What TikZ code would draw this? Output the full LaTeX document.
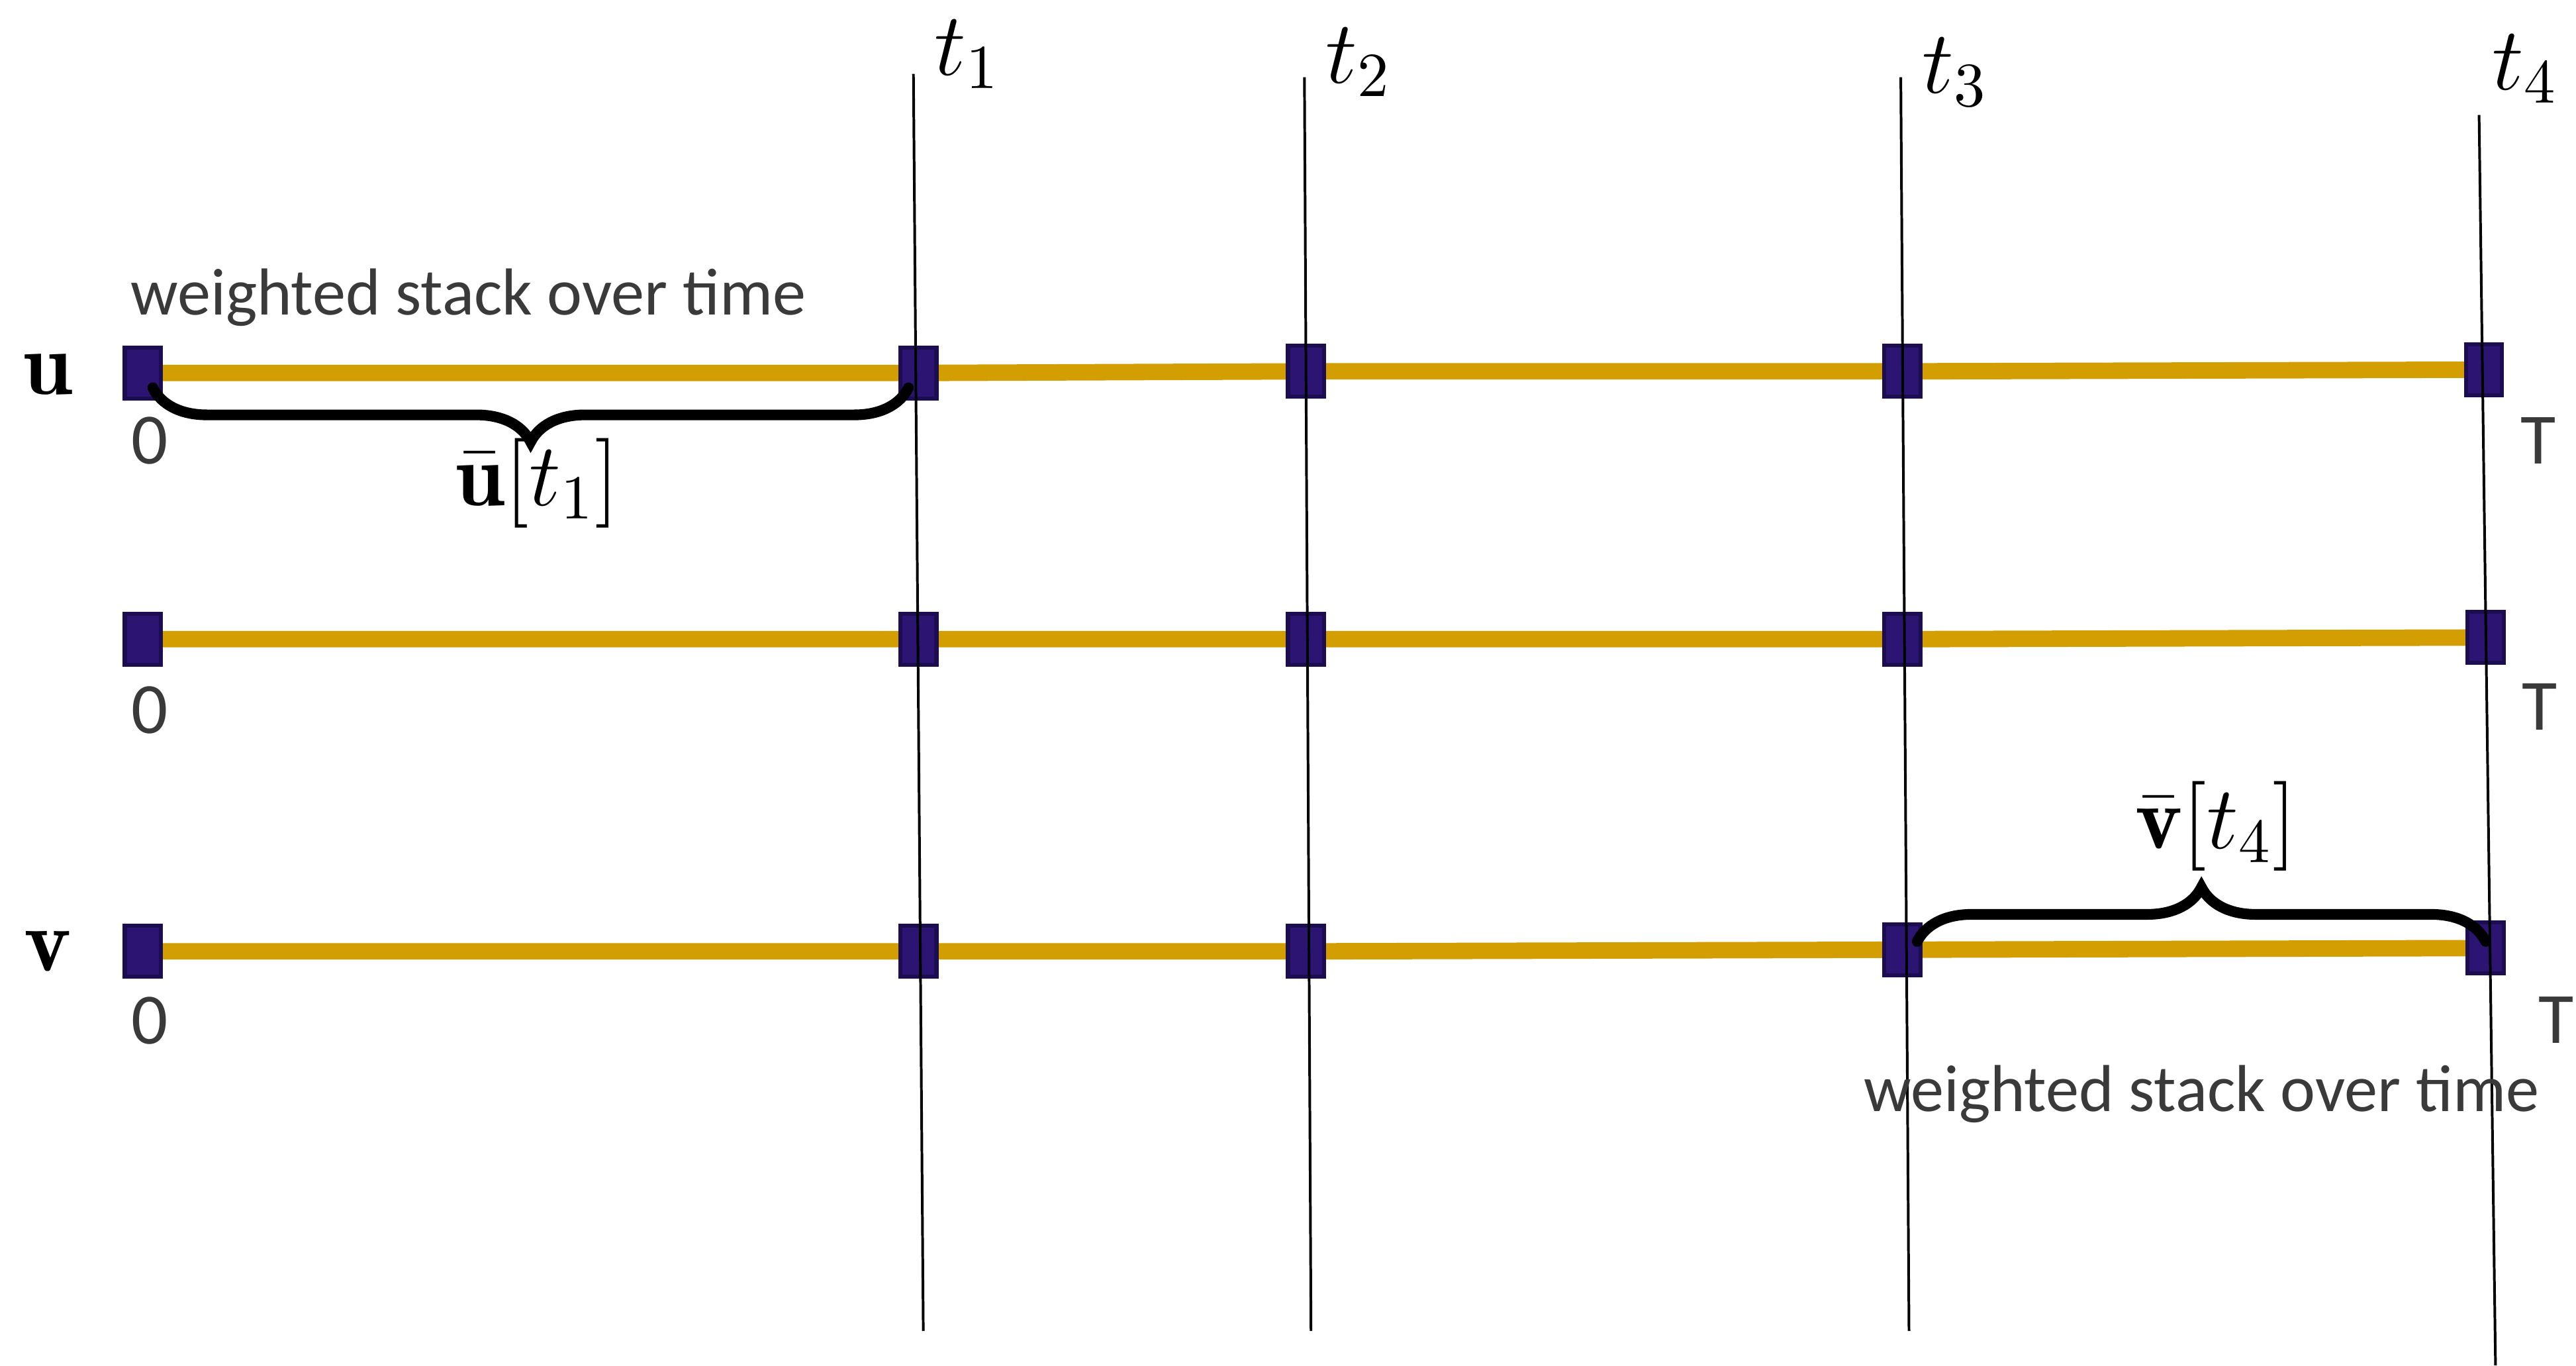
\RequirePackage{fix-cm}
\documentclass[tikz,border=0pt]{standalone}
\usepackage{fontspec}
\newfontfamily\carlito{Carlito}
\usetikzlibrary{decorations.pathreplacing,backgrounds}
\definecolor{gold}{RGB}{211,158,2}
\definecolor{indigo}{RGB}{44,20,114}
\definecolor{indigoedge}{RGB}{28,12,80}
\definecolor{labgray}{RGB}{58,58,58}
\begin{document}
\begin{tikzpicture}[x=0.1mm,y=-0.1mm,
 sq/.style={rectangle,fill=indigo,draw=indigoedge,line width=0.25mm,minimum width=2.2mm,minimum height=3.1mm,inner sep=0pt},
 yline/.style={draw=gold,line width=1mm},
 tline/.style={draw=black,line width=0.16mm},
 brc/.style={decorate,decoration={brace,amplitude=3.3mm},line width=0.65mm,line cap=round},
 mlab/.style={font=\fontsize{15.5}{18}\selectfont,inner sep=0pt},
 glab/.style={font=\carlito\fontsize{11.5}{14}\selectfont,text=labgray,inner sep=0pt},
 nlab/.style={font=\carlito\fontsize{12.5}{15}\selectfont,text=labgray,inner sep=0pt}]
\useasboundingbox (0,0) rectangle (1568,831);

% squares
\node[sq] (a0) at (87,227) {};
\node[sq] (a1) at (559,227) {};
\node[sq] (a2) at (795,226) {};
\node[sq] (a3) at (1158,226) {};
\node[sq] (a4) at (1512,225) {};
\node[sq] (b0) at (87,389) {};
\node[sq] (b1) at (559,389) {};
\node[sq] (b2) at (795,389) {};
\node[sq] (b3) at (1158,389) {};
\node[sq] (b4) at (1513,388) {};
\node[sq] (c0) at (87,579) {};
\node[sq] (c1) at (559,579) {};
\node[sq] (c2) at (795,579) {};
\node[sq] (c3) at (1158,578) {};
\node[sq] (c4) at (1513,577) {};

\begin{pgfonlayer}{background}
\draw[yline] (a0.center) -- (a1.center) -- (a2.center) -- (a3.center) -- (a4.center);
\draw[yline] (b0.center) -- (b1.center) -- (b2.center) -- (b3.center) -- (b4.center);
\draw[yline] (c0.center) -- (c1.center) -- (c2.center) -- (c3.center) -- (c4.center);
\end{pgfonlayer}

% time lines
\coordinate (t1top) at (556,45);  \coordinate (t1bot) at (562,810);
\coordinate (t2top) at (794,47);  \coordinate (t2bot) at (798,810);
\coordinate (t3top) at (1157,47); \coordinate (t3bot) at (1162,810);
\coordinate (t4top) at (1509,70); \coordinate (t4bot) at (1519,831);
\draw[tline] (t1top) -- (t1bot);
\draw[tline] (t2top) -- (t2bot);
\draw[tline] (t3top) -- (t3bot);
\draw[tline] (t4top) -- (t4bot);
\node[mlab] (lt1) at (589,33) {$t_1$};
\node[mlab] (lt2) at (827,38) {$t_2$};
\node[mlab] (lt3) at (1190,44) {$t_3$};
\node[mlab] (lt4) at (1537,42) {$t_4$};

% row labels
\node[mlab] (lu) at (29,228) {$\mathbf{u}$};
\node[mlab] (lv) at (29,579) {$\mathbf{v}$};

% 0 and T
\node[nlab] (z0) at (91,268) {0};
\node[nlab] (z1) at (91,432) {0};
\node[nlab] (z2) at (91,621) {0};
\node[nlab] (T0) at (1545,268) {T};
\node[nlab] (T1) at (1546,430) {T};
\node[nlab] (T2) at (1556,621) {T};

% texts
\node[glab] (w1) at (285,181) {weighted stack over time};
\node[glab] (w2) at (1340,666) {weighted stack over time};

% braces
\coordinate (br1s) at (553,236);
\coordinate (br1e) at (93,236);
\coordinate (br2s) at (1167,573);
\coordinate (br2e) at (1513,573);
\draw[brc] (br1s) -- (br1e);
\draw[brc] (br2s) -- (br2e);
\node[mlab] (lub) at (327,294) {$\bar{\mathbf{u}}[t_1]$};
\node[mlab] (lvb) at (1349,503) {$\bar{\mathbf{v}}[t_4]$};
\end{tikzpicture}
\end{document}
